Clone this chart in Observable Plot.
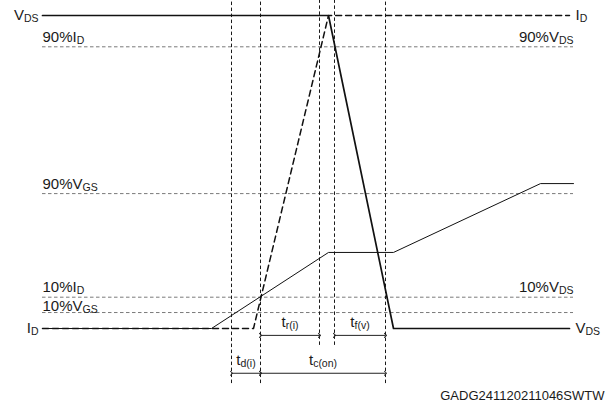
<!DOCTYPE html>
<html>
<head>
<meta charset="utf-8">
<script src="https://cdn.jsdelivr.net/npm/d3@7"></script>
<script src="https://cdn.jsdelivr.net/npm/@observablehq/plot@0.6"></script>
<style>
  html, body { margin: 0; padding: 0; background: #fff; }
</style>
</head>
<body>
<div id="chart"></div>
<script>
// Time axis in arbitrary units (0 = start of the waveforms), levels in % of full scale.
// Waveforms
const vdsTime  = [0, 286, 351, 527];
const vdsLevel = [100, 100, 0, 0];
const idTime   = [0, 211, 286, 527];
const idLevel  = [0, 0, 100, 100];
const vgsTime  = [0, 169, 286, 351, 498, 531];
const vgsLevel = [0, 0, 24.3, 24.3, 46.3, 46.3];

// Horizontal reference levels
const refLevels = [90, 43.1, 10, 5.1];
const leftRefLabels  = ["90%I_D", "90%V_GS", "10%I_D"];
const leftRefLevels  = [90, 43.1, 10];
const lowRefLabels   = ["10%V_GS"];
const lowRefLevels   = [5.1];
const rightRefLabels = ["90%V_DS", "10%V_DS"];
const rightRefLevels = [90, 10];

// Vertical event markers
const eventTimes  = [189, 218, 277, 292, 343];
const eventBottom = [-17.6, -17.6, -5.4, -5.4, -17.6];
const eventTop    = [104.8, 104.8, 104.8, 104.8, 104.8];

// Timing intervals
const intervalNames = ["t_r(i)", "t_f(v)", "t_d(i)", "t_c(on)"];
const intervalStart = [218, 292, 189, 218];
const intervalEnd   = [277, 343, 218, 343];
const intervalLevel = [-2.2, -2.2, -14.3, -14.3];

// Trace end labels
const endLabelsLeft  = ["V_DS", "I_D"];
const endLevelsLeft  = [100, 0];
const endLabelsRight = ["I_D", "V_DS"];
const endLevelsRight = [100, 0];

const figureCode = "GADG241120211046SWTW";

const xStart = 0, xEnd = 531;

const toPts = (T, L) => T.map((t, i) => ({t, v: L[i]}));
const vds = toPts(vdsTime, vdsLevel);
const idw = toPts(idTime, idLevel);
const vgs = toPts(vgsTime, vgsLevel);
const events = eventTimes.map((t, i) => ({t, y1: eventBottom[i], y2: eventTop[i]}));
const intervals = intervalNames.map((n, i) => ({n, a: intervalStart[i], b: intervalEnd[i], v: intervalLevel[i], m: (intervalStart[i] + intervalEnd[i]) / 2}));
const lbl = (N, V) => N.map((n, i) => ({n, v: V[i]}));
const leftRefs = lbl(leftRefLabels, leftRefLevels);
const lowRefs = lbl(lowRefLabels, lowRefLevels);
const rightRefs = lbl(rightRefLabels, rightRefLevels);
const endsL = lbl(endLabelsLeft, endLevelsLeft);
const endsR = lbl(endLabelsRight, endLevelsRight);

const FONT = "'Liberation Sans', Arial, sans-serif";
const FS = 15;
const TXT = "#1a1a1a";

const svg = Plot.plot({
  width: 612,
  height: 409,
  marginLeft: 42,
  marginRight: 39,
  marginTop: 15,
  marginBottom: 81,
  x: {domain: [xStart, xEnd], axis: null},
  y: {domain: [0, 100], axis: null},
  style: {fontFamily: FONT, fontSize: FS + "px", background: "#fff", overflow: "visible"},
  marks: [
    Plot.ruleY(refLevels, {x1: xStart, x2: xEnd, y: d => d, stroke: "#7a7a7a", strokeWidth: 1, strokeDasharray: "3.5,2.5"}),
    Plot.ruleX(events, {x: "t", y1: "y1", y2: "y2", stroke: "#1a1a1a", strokeWidth: 1, strokeDasharray: "3.5,2.5"}),
    Plot.line(vgs, {x: "t", y: "v", stroke: "#111", strokeWidth: 1}),
    Plot.line(idw, {x: "t", y: "v", stroke: "#111", strokeWidth: 1.5, strokeDasharray: "6,4"}),
    Plot.line(vds, {x: "t", y: "v", stroke: "#111", strokeWidth: 1.7}),
    Plot.link(intervals, {x1: "a", x2: "b", y1: "v", y2: "v", stroke: "#222", strokeWidth: 1, markerStart: "arrow", markerEnd: "arrow"}),
    Plot.text(intervals, {x: "m", y: "v", text: "n", dy: -8, lineAnchor: "bottom", textAnchor: "middle", fill: TXT, fontSize: FS}),
    Plot.text(leftRefs, {x: xStart, y: "v", text: "n", dy: -5, lineAnchor: "bottom", textAnchor: "start", fill: TXT, fontSize: FS}),
    Plot.text(lowRefs, {x: xStart, y: "v", text: "n", dy: -1.5, lineAnchor: "bottom", textAnchor: "start", fill: TXT, fontSize: FS}),
    Plot.text(rightRefs, {x: xEnd, y: "v", text: "n", dy: -5, lineAnchor: "bottom", textAnchor: "end", fill: TXT, fontSize: FS}),
    Plot.text(endsL, {x: xStart, y: "v", text: "n", dx: -4, textAnchor: "end", fill: TXT, fontSize: FS}),
    Plot.text(endsR, {x: xEnd, y: "v", text: "n", dx: 2, textAnchor: "start", fill: TXT, fontSize: FS}),
    Plot.text([figureCode], {frameAnchor: "bottom-right", text: d => d, dx: 31, dy: 71, lineAnchor: "bottom", textAnchor: "end", fill: TXT, fontSize: 13})
  ]
});

// Render "_" suffixes as subscripts
d3.select(svg).selectAll("text").each(function () {
  const t = this.textContent;
  const i = t.indexOf("_");
  if (i < 0) return;
  const sel = d3.select(this);
  sel.text(null);
  sel.append("tspan").text(t.slice(0, i));
  sel.append("tspan").attr("font-size", "0.7em").attr("dy", "0.2em").text(t.slice(i + 1));
});

document.getElementById("chart").appendChild(svg);
</script>
</body>
</html>
